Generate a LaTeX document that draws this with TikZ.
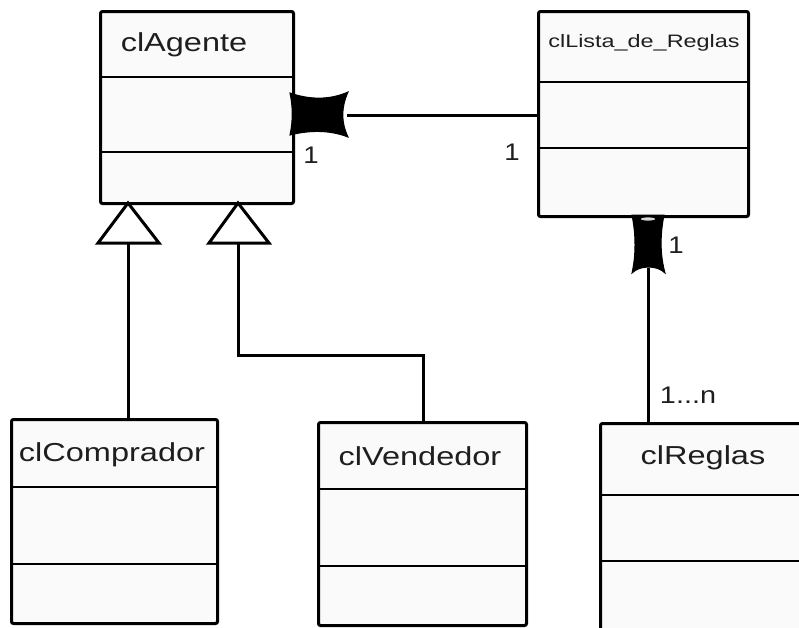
\documentclass[tikz,border=0pt]{standalone}
\usepackage{fontspec}
\setmainfont{Liberation Sans}
\usetikzlibrary{calc}
\definecolor{boxfill}{HTML}{FAFAFA}
\definecolor{txt}{HTML}{1E1E1E}
\newcommand{\wide}[1]{\scalebox{1.25}[1]{#1}}
\tikzset{
  cls/.style={draw=black, line width=3pt, fill=boxfill, rounded corners=2pt,
              anchor=north west, inner sep=0pt},
  divider/.style={line width=2.6pt},
  conn/.style={line width=3pt},
  title/.style={font=\fontsize{26}{30}\selectfont, text=txt, inner sep=0pt},
  small title/.style={font=\fontsize{18}{22}\selectfont, text=txt, inner sep=0pt},
  mult/.style={font=\fontsize{24}{28}\selectfont, text=txt, inner sep=0pt},
  gentip/.style={draw=black, line width=3pt, fill=white, line join=miter},
  comptip/.style={fill=black, draw=black, line width=1pt},
}
\begin{document}
\begin{tikzpicture}[x=1pt, y=-1pt]
\clip (0,0) rectangle (799,627);
\fill[white] (0,0) rectangle (799,627);

% class boxes
\node[cls, minimum width=193pt, minimum height=192pt] (agente) at (99,10) {};
\node[cls, minimum width=210pt, minimum height=205pt] (lista) at (537,10) {};
\node[cls, minimum width=206pt, minimum height=204pt] (comprador) at (10,418) {};
\node[cls, minimum width=208pt, minimum height=203pt] (vendedor) at (317,421) {};
\node[cls, minimum width=220pt, minimum height=230pt] (reglas) at (599,422) {};

% compartment dividers
\draw[divider] (agente.west |- 0,77) -- (agente.east |- 0,77);
\draw[divider] (agente.west |- 0,152) -- (agente.east |- 0,152);
\draw[divider] (lista.west |- 0,82) -- (lista.east |- 0,82);
\draw[divider] (lista.west |- 0,148) -- (lista.east |- 0,148);
\draw[divider] (comprador.west |- 0,487) -- (comprador.east |- 0,487);
\draw[divider] (comprador.west |- 0,564) -- (comprador.east |- 0,564);
\draw[divider] (vendedor.west |- 0,489) -- (vendedor.east |- 0,489);
\draw[divider] (vendedor.west |- 0,566) -- (vendedor.east |- 0,566);
\draw[divider] (reglas.west |- 0,495) -- (reglas.east |- 0,495);
\draw[divider] (reglas.west |- 0,561) -- (reglas.east |- 0,561);

% class names
\node[title] (tAgente) at (184,45) {\wide{clAgente}};
\node[small title] (tLista) at (644,43) {\scalebox{1.3}[1]{clLista\_de\_Reglas}};
\node[title] (tComprador) at (112,455) {\wide{clComprador}};
\node[title] (tVendedor) at (420,456) {\wide{clVendedor}};
\node[title] (tReglas) at (703,458) {\wide{clReglas}};

% generalisation: clComprador and clVendedor -> clAgente
\coordinate (g1) at (128,203);
\coordinate (g2) at (238,203);
\coordinate (g1b) at (128,243);
\coordinate (g2b) at (238,243);
\coordinate (bend1) at (238,355);
\draw[conn] (comprador.north -| g1b) -- (g1b);
\draw[conn, line join=miter] (vendedor.north -| 423,0) |- (bend1) -- (g2b);
\draw[gentip] (g1) -- (98,243) -- (159,243) -- cycle;
\draw[gentip] (g2) -- (209,243) -- (269,243) -- cycle;

% composition: clLista_de_Reglas -- clAgente
\coordinate (c1) at (347,115);
\draw[conn] (c1) -- (lista.west |- c1);
\draw[comptip] (290,93) .. controls (310,100) and (330,100) .. (348,92)
  .. controls (341,108) and (341,122) .. (348,137)
  .. controls (330,130) and (310,130) .. (290,135)
  .. controls (293,120) and (293,108) .. (290,93) -- cycle;

% composition: clReglas -- clLista_de_Reglas
\coordinate (c2) at (648,268);
\draw[conn] (c2) -- (reglas.north -| c2);
\draw[comptip] (632,215) -- (664,215)
  .. controls (660,235) and (660,255) .. (665,273)
  .. controls (657,265) and (640,265) .. (632,273)
  .. controls (636,255) and (636,235) .. (632,215) -- cycle;
\fill[white!85!black] (648,219) ellipse (7pt and 1.6pt);

% multiplicities
\node[mult] (m1) at (311,155) {\scalebox{1.15}[1]{1}};
\node[mult] (m2) at (512,152) {\scalebox{1.15}[1]{1}};
\node[mult] (m3) at (676,245) {\scalebox{1.15}[1]{1}};
\node[mult] (m4) at (688,395) {\scalebox{1.2}[1]{1...n}};
\end{tikzpicture}
\end{document}
